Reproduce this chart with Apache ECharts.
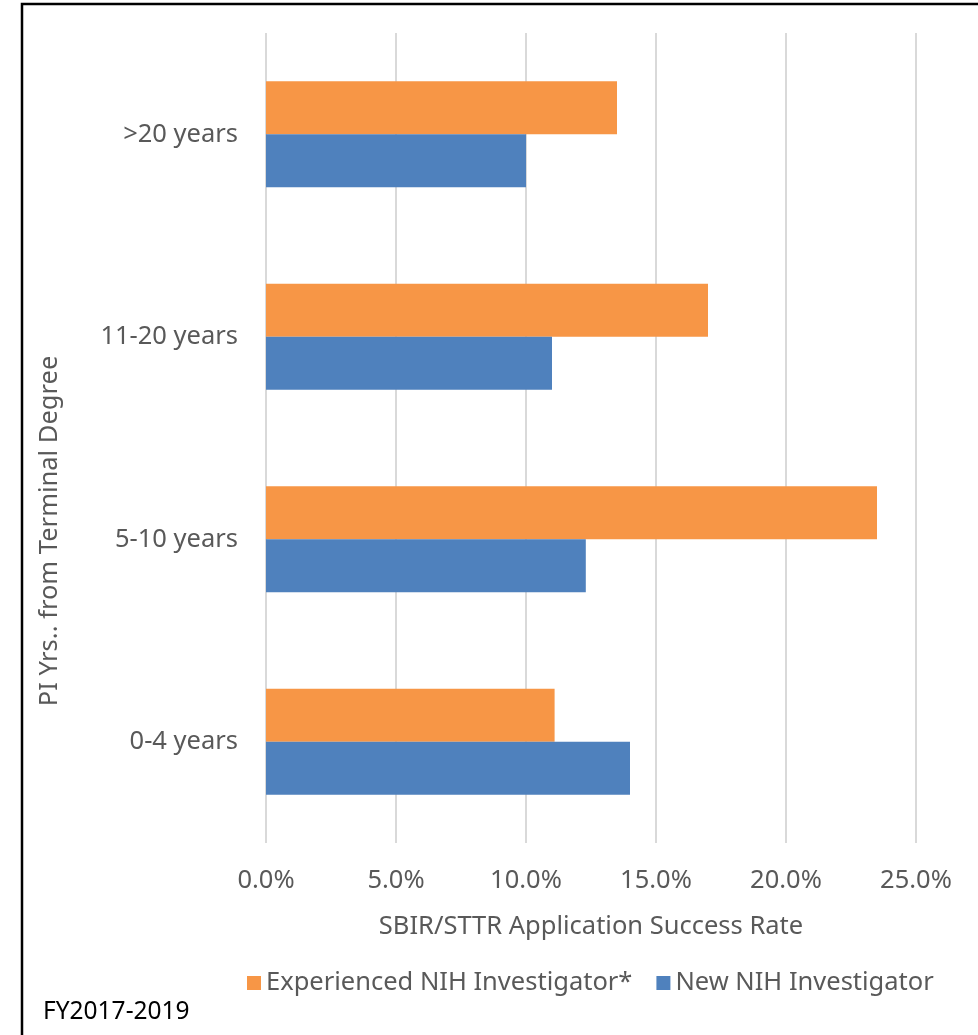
<!DOCTYPE html>
<html>
<head>
<meta charset="utf-8">
<script src="https://cdn.jsdelivr.net/npm/echarts@6/dist/echarts.min.js"></script>
<style>
html,body{margin:0;padding:0;background:#fff;}
#chart{width:978px;height:1035px;}
</style>
</head>
<body>
<div id="chart"></div>
<script>
const categories = ['0-4 years', '5-10 years', '11-20 years', '>20 years'];
const newInvestigator = [14.0, 12.3, 11.0, 10.0];
const experiencedInvestigator = [11.1, 23.5, 17.0, 13.5];
const seriesNames = ['Experienced NIH Investigator*', 'New NIH Investigator'];
const xTicks = { min: 0, max: 25, interval: 5 };
const xAxisTitle = 'SBIR/STTR Application Success Rate';
const yAxisTitle = 'PI Yrs.. from Terminal Degree';
const footnote = 'FY2017-2019';

const FONT = 'Noto Sans';
const TXT = '#595959';
const FS = 25.5;
const chart = echarts.init(document.getElementById('chart'), null, { renderer: 'canvas' });
chart.setOption({
  animation: false,
  backgroundColor: '#fff',
  textStyle: { fontFamily: FONT },
  grid: { left: 266, right: 62, top: 33, bottom: 192 },
  xAxis: {
    type: 'value', min: xTicks.min, max: xTicks.max, interval: xTicks.interval,
    axisLine: { show: false }, axisTick: { show: false },
    splitLine: { show: true, lineStyle: { color: '#d9d9d9', width: 2 } },
    axisLabel: { color: TXT, fontSize: FS, fontFamily: FONT, margin: 25,
      formatter: v => v.toFixed(1) + '%' },
    name: xAxisTitle, nameLocation: 'middle', nameGap: 71,
    nameTextStyle: { color: TXT, fontSize: FS, fontFamily: FONT }
  },
  yAxis: {
    type: 'category', data: categories,
    axisLine: { show: false }, axisTick: { show: false },
    axisLabel: { color: TXT, fontSize: FS, fontFamily: FONT, margin: 28 }
  },
  legend: {
    data: seriesNames, left: 242, top: 965, icon: 'rect', itemWidth: 14, itemHeight: 14,
    itemGap: 24, textStyle: { color: TXT, fontSize: FS, fontFamily: FONT }
  },
  series: [
    { name: seriesNames[0], type: 'bar', data: experiencedInvestigator, barGap: '0%', barCategoryGap: '47.6%',
      itemStyle: { color: '#F79646' } },
    { name: seriesNames[1], type: 'bar', data: newInvestigator, barGap: '0%', barCategoryGap: '47.6%',
      itemStyle: { color: '#4F81BD' } }
  ],
  graphic: [
    { type: 'rect', shape: { x: 22, y: 4, width: 1000, height: 1100 }, silent: true,
      style: { fill: 'none', stroke: '#000', lineWidth: 2.5 } },
    { type: 'text', x: 50, y: 531, rotation: Math.PI / 2,
      style: { text: yAxisTitle, fill: TXT, fontSize: FS, fontFamily: FONT, align: 'center', verticalAlign: 'middle' } },
    { type: 'text', x: 43, y: 1012,
      style: { text: footnote, fill: '#000', fontSize: 24.5, fontFamily: FONT, align: 'left', verticalAlign: 'middle' } }
  ]
});
</script>
</body>
</html>
